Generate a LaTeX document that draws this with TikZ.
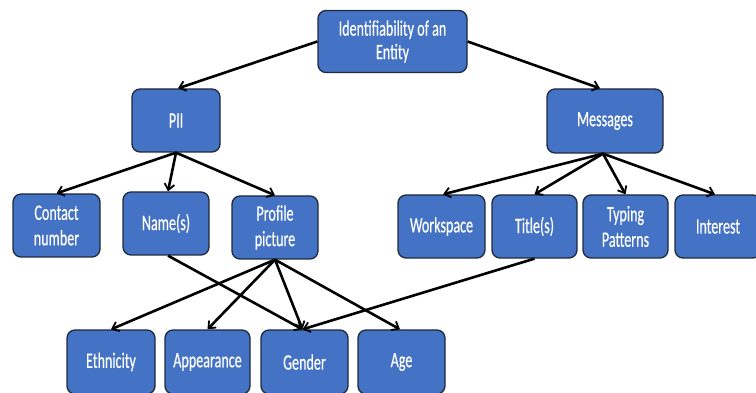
\documentclass[tikz,border=0pt]{standalone}
\usepackage{fontspec}
\setmainfont[FakeStretch=0.64,FakeBold=0.4]{Carlito}
\usetikzlibrary{arrows.meta}
\definecolor{boxblue}{HTML}{4472C4}
\definecolor{boxline}{HTML}{1F2A3A}
\tikzset{
  box/.style={draw=boxline, line width=1.3pt, fill=boxblue, rounded corners=8pt,
    text=white, align=center, inner sep=0pt,
    font=\fontsize{22}{25.5}\selectfont},
  link/.style={line width=2.6pt, -{Straight Barb[length=6pt,width=10pt,line width=1.8pt]}}
}
\begin{document}
\begin{tikzpicture}[x=1pt,y=-1pt]
\useasboundingbox (0,0) rectangle (756,393);
% root and second level
\node[box, minimum width=149pt, minimum height=62pt] (root) at (392.5,41.5) {Identifiability of an\\[-2pt]Entity};
\node[box, minimum width=88pt, minimum height=63pt] (pii) at (176,120.5) {PII};
\node[box, minimum width=116pt, minimum height=64pt] (msg) at (605,121) {Messages};
% third level
\node[box, minimum width=87pt, minimum height=63pt] (contact) at (56.5,225.5) {Contact\\number};
\node[box, minimum width=86pt, minimum height=63pt] (names) at (166,223.5) {Name(s)};
\node[box, minimum width=86pt, minimum height=63pt] (profile) at (275,227.5) {Profile\\picture};
\node[box, minimum width=87pt, minimum height=63pt] (work) at (441.5,226.5) {Workspace};
\node[box, minimum width=85pt, minimum height=63pt] (title) at (534.5,226.5) {Title(s)};
\node[box, minimum width=85pt, minimum height=63pt] (typing) at (625.5,226.5) {Typing\\Patterns};
\node[box, minimum width=86pt, minimum height=63pt] (interest) at (718,226.5) {Interest};
% fourth level
\node[box, minimum width=88pt, minimum height=64pt] (eth) at (111,362) {Ethnicity};
\node[box, minimum width=85pt, minimum height=64pt] (app) at (207.5,362) {Appearance};
\node[box, minimum width=87pt, minimum height=64pt] (gender) at (304.5,362) {Gender};
\node[box, minimum width=87pt, minimum height=64pt] (age) at (401.5,362) {Age};
% connectors
\draw[link] (root.west) -- ([xshift=2pt]pii.north);
\draw[link] (root.east) -- ([xshift=-5pt]msg.north);
\draw[link] (pii.south) -- (contact.north);
\draw[link] (pii.south) -- ([xshift=2pt]names.north);
\draw[link] (pii.south) -- (profile.north);
\draw[link] ([xshift=-2pt]msg.south) -- ([xshift=1.5pt]work.north);
\draw[link] ([xshift=-2pt]msg.south) -- (title.north);
\draw[link] ([xshift=-2pt]msg.south) -- (typing.north);
\draw[link] ([xshift=-2pt]msg.south) -- ([xshift=-3pt]interest.north);
\draw[link] ([xshift=2pt]names.south) -- ([xshift=-2pt]gender.north);
\draw[link] (profile.south) -- (eth.north);
\draw[link] (profile.south) -- (app.north);
\draw[link] (profile.south) -- ([xshift=-2pt]gender.north);
\draw[link] (profile.south) -- ([xshift=-1.5pt]age.north);
\draw[link] (title.south) -- ([xshift=-2pt]gender.north);
\end{tikzpicture}
\end{document}
